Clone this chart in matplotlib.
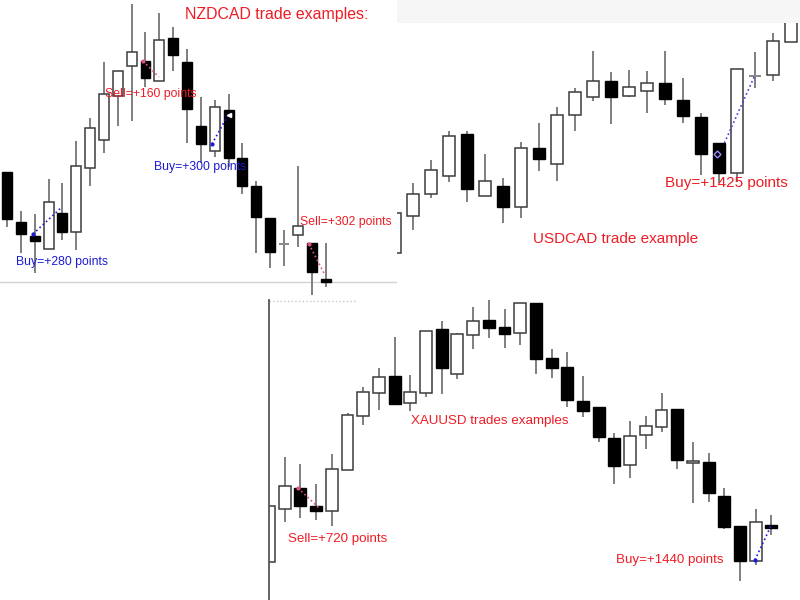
import matplotlib.pyplot as plt
from matplotlib.patches import Rectangle

# NZDCAD (top left) - levels
nz_open = [125, 75, 61, 48, 84, 65, 129, 157, 201, 231, 236, 216, 259, 235, 171, 146, 187, 139, 111, 79, 54, 62, 54, 18]
nz_high = [125, 86, 83, 118, 114, 156, 179, 235, 226, 293, 265, 284, 270, 248, 200, 197, 203, 154, 116, 79, 67, 131, 54, 54]
nz_low = [70, 44, 24, 48, 57, 47, 111, 144, 171, 176, 210, 216, 226, 154, 134, 140, 130, 103, 44, 29, 31, 50, 2, 10]
nz_close = [78, 63, 56, 95, 65, 131, 169, 203, 226, 245, 219, 257, 242, 188, 153, 190, 139, 111, 80, 45, 53, 71, 25, 15]

# USDCAD (top right)
uc_open = [42, 79, 101, 119, 161, 99, 109, 88, 147, 131, 180, 198, 214, 199, 204, 212, 195, 178, 152, 122, 220, 220, 253]
uc_high = [82, 112, 135, 164, 164, 141, 117, 153, 172, 188, 207, 244, 223, 225, 224, 244, 217, 182, 152, 226, 243, 262, 295]
uc_low = [42, 65, 97, 113, 93, 99, 72, 77, 124, 114, 164, 194, 171, 198, 182, 190, 172, 120, 112, 113, 207, 214, 253]
uc_close = [82, 101, 125, 159, 106, 114, 88, 147, 136, 180, 203, 214, 198, 208, 212, 196, 179, 141, 122, 226, 219, 254, 285]

# XAUUSD (bottom)
xa_open = [38, 91, 112, 94, 89, 130, 184, 207, 224, 197, 207, 271, 226, 265, 280, 273, 267, 297, 242, 233, 199,
           193, 162, 135, 165, 173, 191, 137, 138, 104, 74, 39, 75]
xa_high = [94, 143, 136, 116, 146, 187, 213, 232, 263, 225, 269, 279, 267, 293, 300, 291, 297, 297, 251, 248, 224,
           193, 167, 179, 184, 207, 191, 158, 147, 112, 74, 91, 85]
xa_low = [38, 78, 82, 80, 74, 130, 175, 190, 196, 189, 203, 206, 221, 251, 262, 252, 255, 226, 222, 193, 183,
          158, 116, 122, 151, 168, 131, 97, 98, 71, 19, 35, 65]
xa_close = [94, 114, 94, 89, 131, 185, 208, 223, 196, 208, 269, 232, 266, 279, 272, 266, 297, 241, 232, 200, 189,
            163, 134, 164, 174, 190, 140, 139, 107, 73, 39, 78, 72]

RED = '#ee1c25'
BLUE = '#1c1cd2'
PINK = '#e2508c'
FONT = ['Liberation Sans', 'DejaVu Sans']


def candles(ax, o, h, l, c, width):
    for i in range(len(o)):
        ax.vlines(i, l[i], h[i], color='#6a6a6a', lw=1.2, zorder=1)
        lo, hi = min(o[i], c[i]), max(o[i], c[i])
        if hi - lo <= 1:
            ax.bar(i, 2, width, bottom=lo - 1, color='#8a8a8a', zorder=2)
        elif c[i] >= o[i]:
            ax.bar(i, hi - lo, width, bottom=lo, facecolor='white', edgecolor='#3c3c3c', lw=1.1, zorder=2)
        else:
            ax.bar(i, hi - lo, width, bottom=lo, facecolor='black', edgecolor='black', lw=1.0, zorder=2)


def trade(ax, x0, y0, x1, y1, color):
    ax.plot([x0, x1], [y0, y1], ls=':', color=color, lw=1.2, zorder=3)
    ax.plot([x0], [y0], 'o', color=color, ms=2, zorder=4)


def label(fig, x, y, s, color, size):
    fig.text(x / 800, 1 - y / 600, s, color=color, fontsize=size, family=FONT, ha='center', va='center')


fig = plt.figure(figsize=(8, 6), dpi=100)

# top band above the USDCAD screenshot
fig.add_artist(Rectangle((397 / 800, 1 - 23 / 600), 403 / 800, 23 / 600, transform=fig.transFigure,
                         color='#f6f6f6', lw=0))

ax1 = fig.add_axes([0, 1 - 297 / 600, 397 / 800, 297 / 600])
ax2 = fig.add_axes([397 / 800, 1 - 295 / 600, 403 / 800, 272 / 600])
ax3 = fig.add_axes([269 / 800, 0, 531 / 800, 300 / 600])

candles(ax1, nz_open, nz_high, nz_low, nz_close, 0.72)
ax1.axhline(15, color='#d2d2d2', lw=1, zorder=0)
trade(ax1, 1.88, 63, 3.97, 90, BLUE)
trade(ax1, 9.82, 236, 10.97, 220, PINK)
trade(ax1, 14.8, 153, 15.96, 182, BLUE)
ax1.plot([16.0], [182], '<', color='white', ms=3, zorder=4)
trade(ax1, 21.8, 53, 22.96, 22, PINK)
ax1.set_xlim(-0.505, 28.16)
ax1.set_ylim(0, 297)
ax1.axis('off')

candles(ax2, uc_open, uc_high, uc_low, uc_close, 0.72)
ax2.plot([18.3, 20], [152, 220], ls=':', color='#4040e0', lw=1.2, zorder=3)
ax2.plot([17.9], [141], 'D', mfc='none', mec='#9a8cff', ms=3.5, zorder=4)
ax2.set_xlim(0.111, 22.5)
ax2.set_ylim(0, 272)
ax2.axis('off')

candles(ax3, xa_open, xa_high, xa_low, xa_close, 0.76)
ax3.plot([0, 5.6], [299, 299], ls=':', color='#c8c8c8', lw=1, zorder=0)
trade(ax3, 1.85, 112, 3.18, 92, PINK)
trade(ax3, 30.95, 40, 32.0, 75, BLUE)
ax3.set_xlim(0, 33.82)
ax3.set_ylim(0, 300)
ax3.set_xticks([])
ax3.set_yticks([])
for side in ['top', 'right', 'bottom']:
    ax3.spines[side].set_visible(False)
ax3.spines['left'].set_color('#555555')
ax3.spines['left'].set_linewidth(1.3)
ax3.patch.set_alpha(0)

label(fig, 277, 14, 'NZDCAD trade examples:', RED, 11.4)
label(fig, 151, 94, 'Sell=+160 points', RED, 8.8)
label(fig, 200, 167, 'Buy=+300 points', BLUE, 8.8)
label(fig, 62, 262, 'Buy=+280 points', BLUE, 8.8)
label(fig, 346, 222, 'Sell=+302 points', RED, 8.8)

label(fig, 726, 183, 'Buy=+1425 points', RED, 11)
label(fig, 616, 239, 'USDCAD trade example', RED, 11)

label(fig, 490, 421, 'XAUUSD trades examples', RED, 9.6)
label(fig, 338, 539, 'Sell=+720 points', RED, 9.6)
label(fig, 670, 560, 'Buy=+1440 points', RED, 9.6)

fig.savefig('out.png', dpi=100)
